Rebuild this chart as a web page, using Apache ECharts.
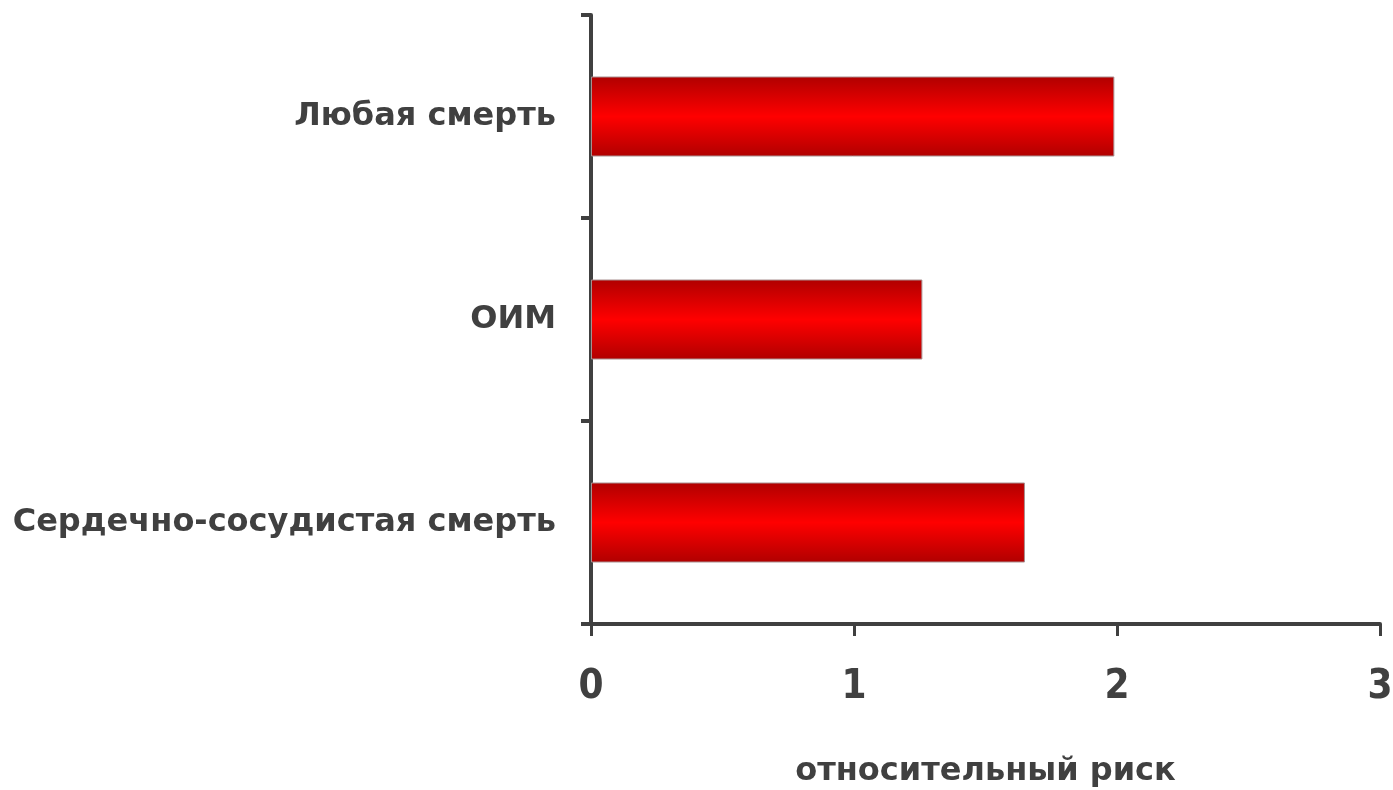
<!DOCTYPE html>
<html>
<head>
<meta charset="utf-8">
<script src="https://cdn.jsdelivr.net/npm/echarts@6/dist/echarts.min.js"></script>
<style>
  html, body { margin: 0; padding: 0; background: #fff; }
  #chart { width: 1393px; height: 790px; }
</style>
</head>
<body>
<div id="chart"></div>
<script>
// Categories listed bottom-to-top (category y axis starts at the bottom)
const categories = ['Сердечно-сосудистая смерть', 'ОИМ', 'Любая смерть'];
const relativeRisk = [1.65, 1.26, 1.99];
const axisTitle = 'относительный риск';

const axisColor = '#404040';
const textFont = '"DejaVu Sans", "Liberation Sans", Arial, sans-serif';
const digitFont = '"DejaVu Sans Condensed", "Liberation Sans Narrow", "DejaVu Sans", sans-serif';

const chart = echarts.init(document.getElementById('chart'));
chart.setOption({
  animation: false,
  grid: {
    left: 591, right: 13, top: 15, bottom: 166,
    containLabel: false,
    outerBoundsMode: 'none'
  },
  xAxis: {
    type: 'value',
    min: 0,
    max: 3,
    interval: 1,
    splitLine: { show: false },
    axisLine: { show: true, lineStyle: { color: axisColor, width: 4 } },
    axisTick: { show: true, length: 12, lineStyle: { color: axisColor, width: 3 } },
    axisLabel: {
      margin: 44,
      color: axisColor,
      fontFamily: digitFont,
      fontWeight: 'bold',
      fontSize: 40
    },
    name: axisTitle,
    nameLocation: 'middle',
    nameGap: 132,
    nameTextStyle: {
      color: axisColor,
      fontFamily: textFont,
      fontWeight: 'bold',
      fontSize: 32
    }
  },
  yAxis: {
    type: 'category',
    data: categories,
    axisLine: { show: true, lineStyle: { color: axisColor, width: 4 } },
    axisTick: { show: true, length: 10, lineStyle: { color: axisColor, width: 4 } },
    axisLabel: {
      margin: 35,
      padding: [6, 0, 0, 0],
      color: axisColor,
      fontFamily: textFont,
      fontWeight: 'bold',
      fontSize: 32
    }
  },
  series: [{
    type: 'bar',
    data: relativeRisk,
    barWidth: 80,
    itemStyle: {
      borderColor: '#a89090',
      borderWidth: 1,
      color: new echarts.graphic.LinearGradient(0, 0, 0, 1, [
        { offset: 0, color: '#b00000' },
        { offset: 0.5, color: '#ff0000' },
        { offset: 1, color: '#b00000' }
      ])
    }
  }]
});
</script>
</body>
</html>
